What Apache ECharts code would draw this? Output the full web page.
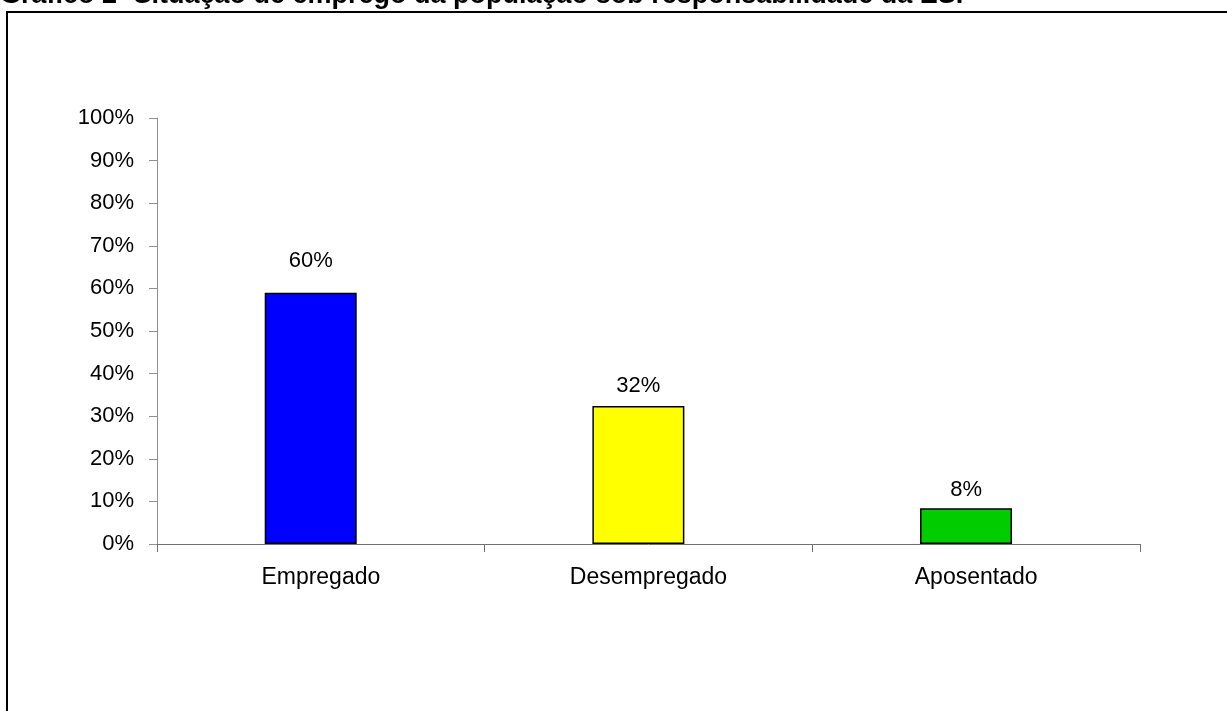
<!DOCTYPE html>
<html><head><meta charset="utf-8">
<script src="https://cdn.jsdelivr.net/npm/echarts@6/dist/echarts.min.js"></script>
<style>html,body{margin:0;padding:0;background:#fff}#c{width:1227px;height:711px}</style>
</head><body><div id="c"></div>
<script>
const categories = ['Empregado', 'Desempregado', 'Aposentado'];
const values = [59.0, 32.4, 8.4];
const valueLabels = ['60%', '32%', '8%'];
const barColors = ['#0000FF', '#FFFF00', '#00CC00'];
const yTicks = [0, 10, 20, 30, 40, 50, 60, 70, 80, 90, 100];
const titleText = 'Gráfico 2- Situação de emprego da população sob responsabilidade da ESF';
const labelGaps = [21, 9, 7];

const chart = echarts.init(document.getElementById('c'), null, {renderer: 'canvas'});
const font = 'Liberation Sans, Arial, sans-serif';
chart.setOption({
  animation: false,
  backgroundColor: '#fff',
  textStyle: {fontFamily: font},
  graphic: [
    {type: 'rect', shape: {x: 7, y: 12, width: 1260, height: 760}, style: {fill: 'none', stroke: '#000', lineWidth: 2}, silent: true},
    {type: 'text', left: 0, top: -18, style: {text: titleText, font: 'bold 27px ' + font, fill: '#000'}}
  ],
  grid: {left: 157, right: 87, top: 118, bottom: 167},
  xAxis: {
    type: 'category', data: categories,
    axisLine: {lineStyle: {color: '#707070', width: 1}},
    axisTick: {show: true, length: 8, lineStyle: {color: '#707070'}},
    axisLabel: {color: '#000', fontSize: 23, margin: 22, fontFamily: font}
  },
  yAxis: {
    type: 'value', min: 0, max: 100, interval: 10,
    axisLine: {show: true, lineStyle: {color: '#909090'}},
    axisTick: {show: true, length: 8, lineStyle: {color: '#909090'}},
    splitLine: {show: false},
    axisLabel: {color: '#000', fontSize: 22, margin: 23, fontFamily: font,
      formatter: v => yTicks.includes(v) ? v + '%' : ''}
  },
  series: [{
    type: 'bar',
    barWidth: 92,
    barGap: '-78%',
    data: values.map((v, i) => ({value: v,
      itemStyle: {color: barColors[i], borderColor: '#000', borderWidth: 1.5},
      label: {distance: labelGaps[i]}})),
    label: {show: true, position: 'top', color: '#000', fontSize: 22, fontFamily: font,
      formatter: p => valueLabels[p.dataIndex]}
  }, {
    type: 'bar',
    barWidth: 92,
    data: categories.map(() => '-'),
    silent: true
  }]
});
</script></body></html>
